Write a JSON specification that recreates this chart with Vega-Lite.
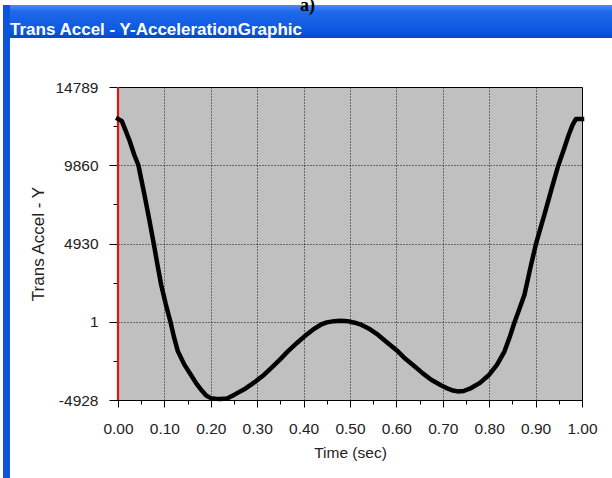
{
  "$schema": "https://vega.github.io/schema/vega-lite/v6.json",
  "padding": {"left": 3, "top": -3, "right": 0, "bottom": 0},
  "background": "white",
  "title": {"text": "a)", "font": "Liberation Serif", "fontWeight": "bold", "fontSize": 18, "color": "#000000", "anchor": "middle", "offset": -10},
  "config": {"concat": {"spacing": 0}, "view": {"stroke": null}},
  "spacing": 0,
  "hconcat": [
    {
      "width": 7,
      "height": 475,
      "data": {"values": [{"label": "border"}]},
      "mark": {"type": "rect", "fill": "#0d55dc", "stroke": null}
    },
    {
      "spacing": 39,
      "vconcat": [
        {
          "width": 602,
          "height": 33,
          "data": {"values": [{"label": "Trans Accel - Y-AccelerationGraphic"}]},
          "layer": [
            {
              "mark": {"type": "rect", "fill": {"gradient": "linear", "x1": 0, "y1": 0, "x2": 0, "y2": 1, "stops": [{"offset": 0, "color": "#4a8cf6"}, {"offset": 0.2, "color": "#1f68ea"}, {"offset": 0.8, "color": "#0b57e0"}, {"offset": 1, "color": "#0848c6"}]}, "stroke": null}
            },
            {
              "mark": {"type": "text", "font": "Liberation Sans", "fontWeight": "bold", "fontSize": 17, "color": "#ffffff", "align": "left", "baseline": "middle", "dx": 0, "dy": 8},
              "encoding": {
                "x": {"datum": 0, "type": "quantitative", "scale": {"domain": [0, 1]}, "axis": null},
                "text": {"field": "label"}
              }
            }
          ]
        },
        {
          "spacing": 0,
          "hconcat": [
            {
              "width": 1,
              "height": 313,
              "data": {"values": [{"label": "spacer"}]},
              "mark": {"type": "rect", "fill": "#ffffff", "opacity": 0, "stroke": null}
            },
            {
              "width": 464,
              "height": 313,
              "view": {"fill": "#c0c0c0", "stroke": "#000000", "strokeWidth": 1},
              "title": {"text": ".", "color": "#ffffff", "fontSize": 2, "anchor": "start", "frame": "group", "offset": 0, "dx": -106},
              "encoding": {
                "x": {
                  "field": "t", "type": "quantitative",
                  "scale": {"domain": [0, 1], "nice": false, "zero": false},
                  "axis": {
                    "title": "Time (sec)",
                    "values": [0, 0.05, 0.1, 0.15, 0.2, 0.25, 0.3, 0.35, 0.4, 0.45, 0.5, 0.55, 0.6, 0.65, 0.7, 0.75, 0.8, 0.85, 0.9, 0.95, 1],
                    "labelExpr": "round(datum.value*100) % 10 == 5 ? '' : format(datum.value, '.2f')",
                    "labelFont": "Liberation Sans", "labelFontSize": 15.5, "labelColor": "#222222", "labelPadding": 14,
                    "titleFont": "Liberation Sans", "titleFontSize": 15.5, "titleFontWeight": "normal", "titleColor": "#222222", "titlePadding": 9,
                    "domain": true, "domainColor": "#000000", "domainWidth": 1,
                    "tickColor": "#000000", "tickWidth": 1,
                    "tickSize": {"condition": {"test": "round(datum.value*100) % 10 == 5", "value": 4}, "value": 7},
                    "grid": true, "gridColor": "#000000", "gridDash": [1, 2], "gridWidth": 1,
                    "gridOpacity": {"condition": {"test": "round(datum.value*100) % 10 != 5 && datum.value > 0.01 && datum.value < 0.99", "value": 0.9}, "value": 0},
                    "labelFlush": false, "labelOverlap": false
                  }
                }
              },
              "layer": [
                {
                  "data": {"values": [{"t": 0}]},
                  "mark": {"type": "rule", "color": "#e3140e", "strokeWidth": 2.2}
                },
                {
                  "data": {"values": [
                    {"t": 0, "a": 12780}, {"t": 0.008, "a": 12650}, {"t": 0.015, "a": 12150}, {"t": 0.025, "a": 11400},
                    {"t": 0.035, "a": 10524}, {"t": 0.044, "a": 9860}, {"t": 0.057, "a": 8004}, {"t": 0.067, "a": 6500},
                    {"t": 0.077, "a": 4930}, {"t": 0.085, "a": 3600}, {"t": 0.093, "a": 2334}, {"t": 0.103, "a": 1100},
                    {"t": 0.113, "a": 1}, {"t": 0.121, "a": -1000}, {"t": 0.129, "a": -1862}, {"t": 0.143, "a": -2700},
                    {"t": 0.157, "a": -3336}, {"t": 0.169, "a": -3900}, {"t": 0.179, "a": -4281}, {"t": 0.19, "a": -4650},
                    {"t": 0.2, "a": -4810}, {"t": 0.21, "a": -4850}, {"t": 0.22, "a": -4860}, {"t": 0.235, "a": -4830},
                    {"t": 0.251, "a": -4590}, {"t": 0.275, "a": -4200}, {"t": 0.297, "a": -3752}, {"t": 0.315, "a": -3330},
                    {"t": 0.33, "a": -2914}, {"t": 0.35, "a": -2350}, {"t": 0.366, "a": -1862}, {"t": 0.385, "a": -1350},
                    {"t": 0.402, "a": -917}, {"t": 0.42, "a": -500}, {"t": 0.437, "a": -186}, {"t": 0.45, "a": -40},
                    {"t": 0.466, "a": 40}, {"t": 0.48, "a": 70}, {"t": 0.495, "a": 40}, {"t": 0.51, "a": -60},
                    {"t": 0.524, "a": -186}, {"t": 0.54, "a": -420}, {"t": 0.56, "a": -816}, {"t": 0.58, "a": -1300},
                    {"t": 0.603, "a": -1862}, {"t": 0.62, "a": -2350}, {"t": 0.639, "a": -2808}, {"t": 0.657, "a": -3250},
                    {"t": 0.675, "a": -3651}, {"t": 0.695, "a": -3980}, {"t": 0.711, "a": -4218}, {"t": 0.722, "a": -4330},
                    {"t": 0.732, "a": -4386}, {"t": 0.745, "a": -4360}, {"t": 0.761, "a": -4176}, {"t": 0.78, "a": -3850},
                    {"t": 0.8, "a": -3336}, {"t": 0.817, "a": -2700}, {"t": 0.833, "a": -1862}, {"t": 0.845, "a": -900},
                    {"t": 0.854, "a": -78}, {"t": 0.865, "a": 800}, {"t": 0.876, "a": 1704}, {"t": 0.888, "a": 3300},
                    {"t": 0.901, "a": 4930}, {"t": 0.91, "a": 5850}, {"t": 0.919, "a": 6744}, {"t": 0.928, "a": 7700},
                    {"t": 0.937, "a": 8634}, {"t": 0.949, "a": 9860}, {"t": 0.962, "a": 10946}, {"t": 0.971, "a": 11750},
                    {"t": 0.98, "a": 12414}, {"t": 0.987, "a": 12780}, {"t": 1, "a": 12780}
                  ]},
                  "mark": {"type": "line", "color": "#000000", "strokeWidth": 4.5, "strokeJoin": "round", "strokeCap": "square"},
                  "encoding": {
                    "y": {
                      "field": "a", "type": "quantitative",
                      "scale": {"domain": [-4928, 14789], "nice": false, "zero": false},
                      "axis": {
                        "title": "Trans Accel - Y",
                        "values": [-4928, -2463.5, 1, 2465.5, 4930, 7395, 9860, 12324.5, 14789],
                        "labelExpr": "(datum.value == -2463.5 || datum.value == 2465.5 || datum.value == 7395 || datum.value == 12324.5) ? '' : '' + datum.value",
                        "labelFont": "Liberation Sans", "labelFontSize": 15.5, "labelColor": "#222222", "labelPadding": 11,
                        "titleFont": "Liberation Sans", "titleFontSize": 17, "titleFontWeight": "normal", "titleColor": "#222222", "titlePadding": 7,
                        "domain": false,
                        "tickColor": "#000000", "tickWidth": 1,
                        "tickSize": {"condition": {"test": "datum.value == -2463.5 || datum.value == 2465.5 || datum.value == 7395 || datum.value == 12324.5", "value": 5}, "value": 9},
                        "grid": true, "gridColor": "#000000", "gridDash": [1, 2], "gridWidth": 1,
                        "gridOpacity": {"condition": {"test": "datum.value == 1 || datum.value == 4930 || datum.value == 9860", "value": 0.9}, "value": 0},
                        "labelFlush": false, "labelOverlap": false
                      }
                    }
                  }
                }
              ]
            }
          ]
        }
      ]
    }
  ]
}
